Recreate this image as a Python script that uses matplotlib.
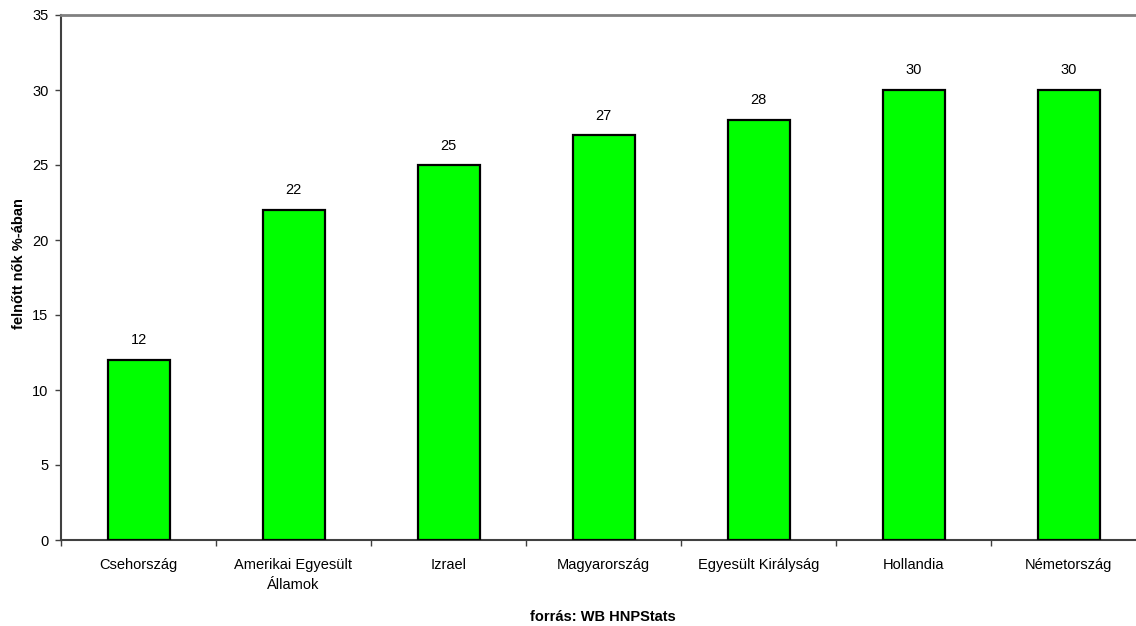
import matplotlib
matplotlib.use("Agg")
import matplotlib.pyplot as plt
import numpy as np

countries = ["Csehország", "Amerikai Egyesült\nÁllamok", "Izrael", "Magyarország",
             "Egyesült Királyság", "Hollandia", "Németország"]
values = [12, 22, 25, 27, 28, 30, 30]
yticks = [0, 5, 10, 15, 20, 25, 30, 35]

plt.rcParams["font.family"] = ["Liberation Sans", "DejaVu Sans"]
FS = 10.5

fig = plt.figure(figsize=(11.36, 6.26), dpi=100)
W, H = 1136, 626
left, right, top, bottom = 61, 1146, 15, 540
ax = fig.add_axes([left / W, 1 - bottom / H, (right - left) / W, (bottom - top) / H])

x = np.arange(len(countries))
ax.bar(x, values, width=0.4, color="#00ff00", edgecolor="black", linewidth=1.6, zorder=3)
for xi, v in zip(x, values):
    ax.annotate(f"{v}", (xi, v), xytext=(0, 9), textcoords="offset points",
                ha="center", va="bottom", fontsize=FS)

ax.set_xlim(-0.5, len(countries) - 0.5)
ax.set_ylim(0, 35)
ax.set_yticks(yticks)
ax.tick_params(axis="y", labelsize=FS, length=4, width=1, color="#404040", pad=5)

ax.set_xticks(x)
ax.set_xticklabels(countries, fontsize=FS, linespacing=1.5)
ax.tick_params(axis="x", length=0, pad=13)
ax.set_xticks(np.arange(len(countries) + 1) - 0.5, minor=True)
ax.tick_params(axis="x", which="minor", length=4, width=1, color="#404040")

for s in ("left", "bottom"):
    ax.spines[s].set_color("#404040")
    ax.spines[s].set_linewidth(1.5)
ax.spines["top"].set_color("#808080")
ax.spines["top"].set_linewidth(2)
ax.spines["right"].set_visible(False)

fig.text(19 / W, 1 - 264 / H, "felnőtt nők %-ában", rotation=90,
         ha="center", va="center", fontsize=FS, fontweight="bold")
fig.text(603 / W, 1 - 617 / H, "forrás: WB HNPStats",
         ha="center", va="center", fontsize=FS, fontweight="bold")

fig.savefig("out.png", dpi=100, facecolor="white")
